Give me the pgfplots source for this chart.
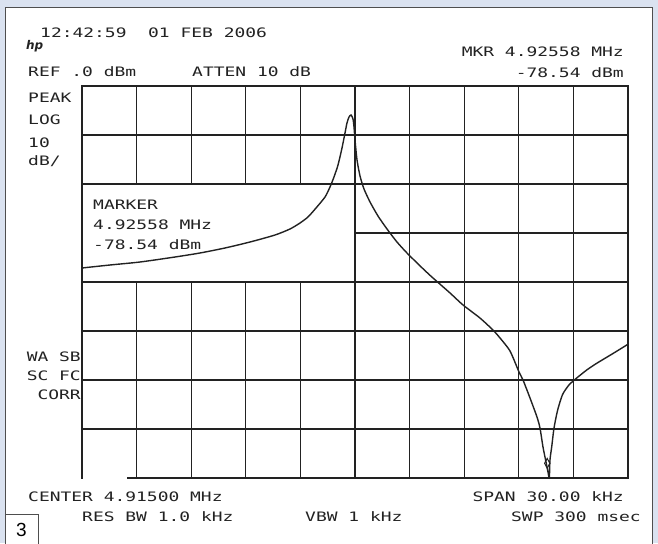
\documentclass[border=0pt]{standalone}
\usepackage{fontspec}
\usepackage{pgfplots}
\pgfplotsset{compat=1.18}
\setmainfont{DejaVu Sans}
\newfontfamily\plotter[FakeStretch=1.38]{DejaVu Sans Mono}
\newfontfamily\numfont{Liberation Sans}
\definecolor{frameblue}{HTML}{DAE2F0}
\definecolor{ink}{HTML}{222222}
\begin{document}
\begin{tikzpicture}[x=1pt,y=1pt,
  pl/.style={font=\plotter\fontsize{13}{13}\selectfont, inner sep=0pt, text=ink}]
% background frame
\fill[frameblue] (0,0) rectangle (658,543);
\fill[white] (5,0) rectangle (652,536);
\draw[ink!80, line width=0.8pt] (5,-1) -- (5,536) -- (652,536) -- (652,-1);
\begin{axis}[
  at={(82pt,65pt)}, anchor=south west,
  scale only axis, width=546pt, height=392pt,
  xmin=0, xmax=10, ymin=-80, ymax=0,
  xtick={0,1,...,10}, ytick={-80,-70,...,0},
  xticklabel=\empty, yticklabel=\empty,
  major tick length=0pt,
  grid=major,
  grid style={line width=1.25pt, ink},
  axis line style={line width=1.25pt, ink},
  clip=false,
]
\fill[white] (axis cs:0,-40) rectangle (axis cs:5,-20);
\draw[line width=1.25pt, ink] (axis cs:0,-40) rectangle (axis cs:5,-20);
\addplot[ink, line width=1.4pt, smooth, tension=0.4] coordinates {
(0.000,-37.14) (0.513,-36.53) (1.062,-35.92) (1.703,-34.90) (2.161,-34.08)
(2.619,-33.06) (3.077,-31.84) (3.535,-30.41) (3.810,-29.18) (3.993,-27.96)
(4.139,-26.73) (4.286,-24.90) (4.451,-22.65) (4.542,-20.61) (4.615,-18.57)
(4.689,-16.12) (4.762,-12.65) (4.817,-9.59) (4.853,-7.55) (4.890,-6.33)
(4.927,-5.92) (4.963,-6.73) (4.982,-8.37) (5.000,-11.02) (5.037,-15.10)
(5.092,-18.37) (5.165,-21.02) (5.275,-23.67) (5.421,-26.53) (5.586,-29.18)
(5.769,-31.84) (5.952,-34.08) (6.190,-36.70) (6.400,-38.90)
(6.740,-42.24) (6.978,-44.69) (7.289,-47.35) (7.527,-49.80) (7.656,-51.43)
(7.839,-54.08) (8.004,-58.37) (8.077,-60.00) (8.205,-63.67) (8.333,-67.55)
(8.388,-69.80) (8.443,-73.67) (8.498,-76.73) (8.535,-78.78) (8.559,-80.00)
(8.571,-76.33) (8.603,-73.61) (8.645,-69.80) (8.710,-66.20) (8.800,-63.00)
(8.920,-61.00) (9.060,-59.60) (9.244,-57.96) (9.427,-56.59) (9.731,-54.55)
(10.000,-52.70)
};
\addplot[ink, line width=1pt, only marks, mark=diamond, mark size=3.5pt,
  mark options={yscale=1.4, fill=none}] coordinates {(8.52,-77.0)};
\end{axis}
% gap in bottom line
\draw[white, line width=2.4pt] (83.4,65) -- (127,65);
% texts
\node[pl, anchor=base west] at (40,505) {12:42:59~~01 FEB 2006};
\node[anchor=base west, inner sep=0pt, text=ink] at (26,493) {\fontsize{12}{12}\selectfont\itshape\bfseries hp};
\node[pl, anchor=base west] at (28,466) {REF .0 dBm};
\node[pl, anchor=base west] at (192,466) {ATTEN 10 dB};
\node[pl, anchor=base east] at (624,486) {MKR 4.92558 MHz};
\node[pl, anchor=base east] at (624,465) {-78.54 dBm};
\node[pl, anchor=base west] at (28,440) {PEAK};
\node[pl, anchor=base west] at (28,418) {LOG};
\node[pl, anchor=base west] at (28,395) {10};
\node[pl, anchor=base west] at (28,377) {dB/};
\node[pl, anchor=base west] at (93,333) {MARKER};
\node[pl, anchor=base west] at (93,313) {4.92558 MHz};
\node[pl, anchor=base west] at (93,293) {-78.54 dBm};
\node[pl, anchor=base east] at (81,181) {WA SB};
\node[pl, anchor=base east] at (81,162) {SC FC};
\node[pl, anchor=base east] at (81,143) {CORR};
\node[pl, anchor=base west] at (28,41) {CENTER 4.91500 MHz};
\node[pl, anchor=base west] at (82,21) {RES BW 1.0 kHz};
\node[pl, anchor=base west] at (305,21) {VBW 1 kHz};
\node[pl, anchor=base east] at (624,41) {SPAN 30.00 kHz};
\node[pl, anchor=base east] at (641,21) {SWP 300 msec};
% figure number box
\draw[ink!80, fill=white, line width=0.8pt] (5,-1) rectangle (38,29);
\node[inner sep=0pt, text=black] at (21.5,13.5) {\numfont\fontsize{19}{19}\selectfont 3};
\pgfresetboundingbox
\useasboundingbox (0,0) rectangle (658,543);
\end{tikzpicture}
\end{document}
